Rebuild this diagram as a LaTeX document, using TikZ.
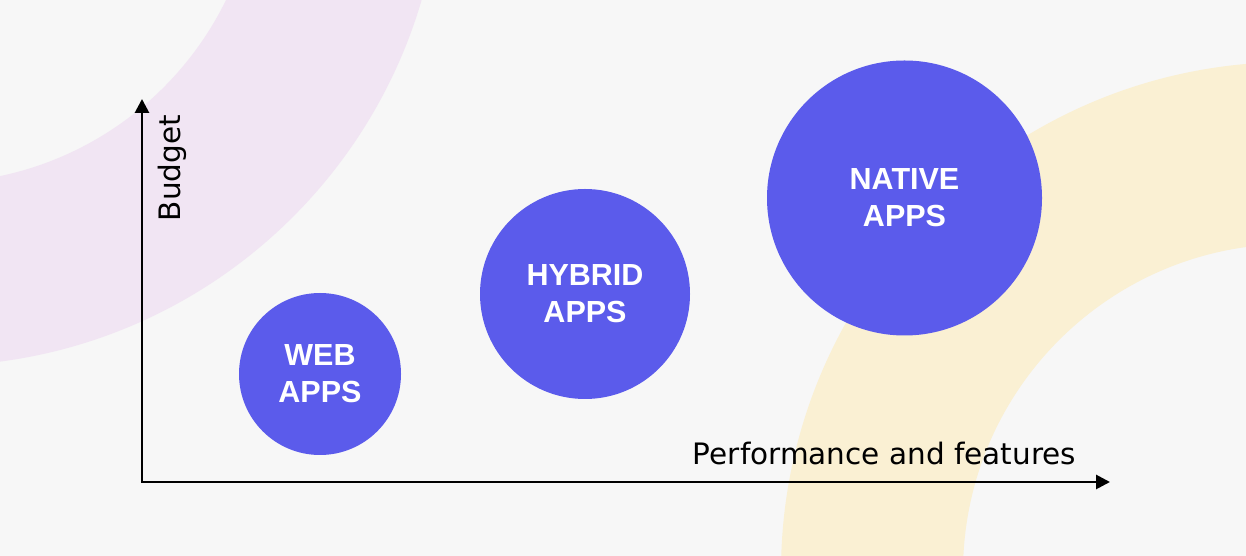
\documentclass[tikz,border=0pt]{standalone}
\usepackage{fontspec}
\setmainfont{DejaVu Sans}
\newfontfamily\appfont{Liberation Sans}
\usetikzlibrary{arrows.meta}
\definecolor{backgr}{HTML}{F7F7F7}
\definecolor{ringlila}{HTML}{F1E5F3}
\definecolor{ringgelb}{HTML}{FAF0D3}
\definecolor{appblau}{HTML}{5B5BEB}
\begin{document}
\begin{tikzpicture}[x=1pt,y=1pt,
		app/.style={circle, fill=appblau, inner sep=0pt, text=white, align=center,
			font=\appfont\bfseries\fontsize{30.5}{37}\selectfont},
		axis/.style={line width=2.8pt, {Triangle[length=14pt,width=14pt]}-{Triangle[length=14pt,width=14pt]}},
		axislabel/.style={inner sep=0pt, font=\fontsize{29.5}{34}\selectfont}]
	% Fond et anneaux
	\useasboundingbox (0,0) rectangle (1246,556);
	\fill[backgr] (0,0) rectangle (1246,556);
	\begin{scope}
		\clip (0,0) rectangle (1246,556);
		\fill[ringlila, even odd rule] (-67,699) circle (509) (-67,699) circle (326);
		\fill[ringgelb, even odd rule] (1291,-16) circle (510) (1291,-16) circle (328);
	\end{scope}
	% Axes
	\coordinate (ytop) at (142,457);
	\coordinate (origin) at (142,74);
	\coordinate (xend) at (1110,74);
	\draw[axis] (ytop) -- (origin) -- (xend);
	\node[axislabel, rotate=90, anchor=base] (budget) at (180,388) {Budget};
	\node[axislabel, anchor=base] (perf) at (884.5,91) {Performance and features};
	% Cercles
	\node[app, minimum size=162pt] (web) at (320,182) {WEB\\APPS};
	\node[app, minimum size=210pt] (hybrid) at (585,262) {HYBRID\\APPS};
	\node[app, minimum size=275pt] (native) at (904.5,358) {NATIVE\\APPS};
\end{tikzpicture}
\end{document}
